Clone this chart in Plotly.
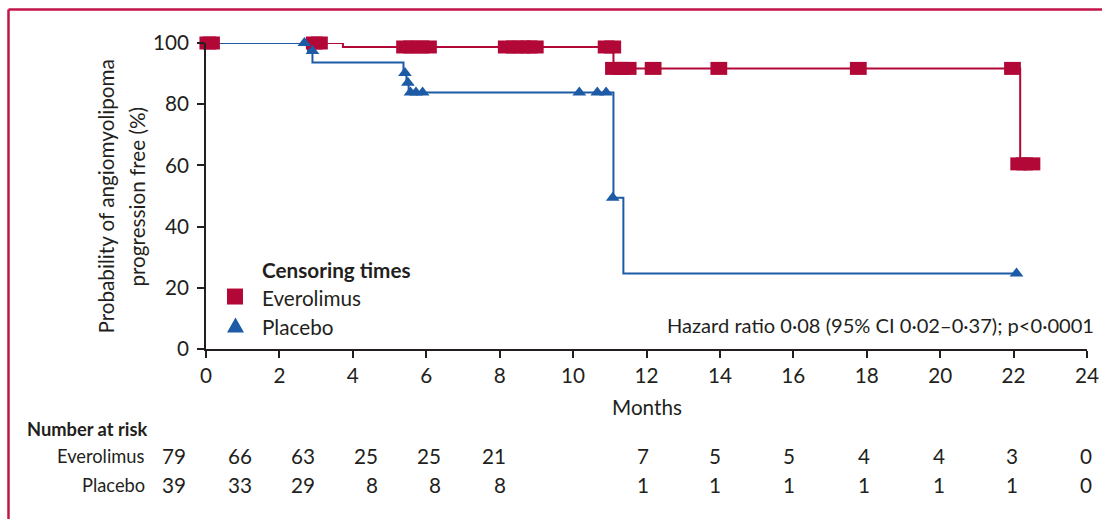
import plotly.graph_objects as go

# Kaplan-Meier step curves (months, % progression free)
evero_time = [0, 3.73, 11.1, 22.18, 22.5]
evero_surv = [100, 98.7, 91.7, 60.5, 60.5]
placebo_time = [0, 2.78, 2.9, 5.38, 5.46, 5.52, 11.1, 11.37, 22.1]
placebo_surv = [100, 97.4, 93.6, 90.2, 87.0, 83.8, 49.4, 24.7, 24.7]

# Censoring times
evero_cens_time = [0.05, 0.15, 2.95, 3.09, 5.41, 5.6, 5.85, 6.06, 8.18, 8.4, 8.6, 8.8, 8.97,
                   10.9, 11.08, 11.1, 11.3, 11.5, 12.18, 13.97, 17.77, 21.97, 22.14, 22.3, 22.5]
evero_cens_surv = [100, 100, 100, 100, 98.7, 98.7, 98.7, 98.7, 98.7, 98.7, 98.7, 98.7, 98.7,
                   98.7, 98.7, 91.7, 91.7, 91.7, 91.7, 91.7, 91.7, 91.7, 60.5, 60.5, 60.5]
placebo_cens_time = [2.68, 2.9, 5.42, 5.5, 5.57, 5.72, 5.9, 10.17, 10.66, 10.9, 11.08, 22.08]
placebo_cens_surv = [100, 97.4, 90.2, 87.0, 83.8, 83.8, 83.8, 83.8, 83.8, 83.8, 49.4, 24.7]

# Axis ticks
x_ticks = list(range(0, 25, 2))
y_ticks = list(range(0, 101, 20))

# Number at risk table
risk_groups = ["Everolimus", "Placebo"]
risk_everolimus = [79, 66, 63, 25, 25, 21, 7, 5, 5, 4, 4, 3, 0]
risk_placebo = [39, 33, 29, 8, 8, 8, 1, 1, 1, 1, 1, 1, 0]
# right edge of each table column, in months on the x scale
risk_cols = [-0.49, 1.31, 3.02, 4.74, 6.46, 8.23, 12.13, 14.09, 16.10, 18.15, 20.19, 22.18, 24.2]
X_MAX = 24

RED = "#b20838"
BLUE = "#1d5ba6"
INK = "#231f20"
FRAME = "#c31447"
FONT = "Lato"
FS = 20.7        # axis, legend and annotation text
FS_HR = 20.1     # hazard ratio note
FS_TABLE = 18.3  # row labels of the risk table

W, H = 1102, 519
L, R, T, B = 206, 1087, 43.3, 349.5


def px(xp):
    return (xp - L) / (R - L)


def py(yp):
    return (B - yp) / (B - T)


fig = go.Figure()

fig.add_trace(go.Scatter(x=evero_time, y=evero_surv, mode="lines", line_shape="hv",
                         line=dict(color=RED, width=2), showlegend=False, cliponaxis=False))
fig.add_trace(go.Scatter(x=placebo_time, y=placebo_surv, mode="lines", line_shape="hv",
                         line=dict(color=BLUE, width=2), showlegend=False, cliponaxis=False))

fig.add_trace(go.Scatter(x=evero_cens_time, y=evero_cens_surv, mode="markers",
                         marker=dict(symbol="line-ew", size=12, color=RED,
                                     line=dict(color=RED, width=13)),
                         showlegend=False, cliponaxis=False))
fig.add_trace(go.Scatter(x=placebo_cens_time, y=placebo_cens_surv, mode="markers",
                         marker=dict(symbol="triangle-up", size=12, color=BLUE,
                                     line=dict(width=0)),
                         showlegend=False, cliponaxis=False))

axis_common = dict(showgrid=False, zeroline=False, showline=True, linecolor=INK, linewidth=1.8,
                   ticks="outside", ticklen=7, tickwidth=1.8, tickcolor=INK, automargin=False,
                   tickfont=dict(family=FONT, size=FS, color=INK))
fig.update_xaxes(range=[0, X_MAX], tickvals=x_ticks, **axis_common)
fig.update_yaxes(range=[0, 100], tickvals=y_ticks, ticklabelstandoff=4, **axis_common)

ann = []


def text(x, y, s, xanchor="left", bold=False, angle=0, size=FS):
    ann.append(dict(x=x, y=y, xref="paper", yref="paper", text=f"<b>{s}</b>" if bold else s,
                    showarrow=False, xanchor=xanchor, yanchor="middle", textangle=angle,
                    font=dict(family=FONT, size=size, color=INK)))


text(0.5, py(408), "Months", xanchor="center")
text(px(106), py(197), "Probability of angiomyolipoma", xanchor="center", angle=-90)
text(px(137), py(197), "progression free (%)", xanchor="center", angle=-90)
text(px(1096), py(325), "Hazard ratio 0·08 (95% CI 0·02–0·37); p&lt;0·0001", xanchor="right",
     size=FS_HR)

# legend
text(px(260), py(270), "Censoring times", bold=True)
text(px(260), py(298), "Everolimus")
text(px(260), py(327), "Placebo")

# number at risk
text(px(25), py(430), "Number at risk", bold=True, size=FS_TABLE)
text(px(147), py(457), risk_groups[0], xanchor="right", size=FS_TABLE)
text(px(147), py(486), risk_groups[1], xanchor="right", size=FS_TABLE)
for c, a, b in zip(risk_cols, risk_everolimus, risk_placebo):
    text(c / X_MAX, py(457), str(a), xanchor="right")
    text(c / X_MAX, py(486), str(b), xanchor="right")

shapes = [
    # legend symbols
    dict(type="rect", xref="paper", yref="paper", x0=px(227), x1=px(243), y0=py(305), y1=py(289),
         fillcolor=RED, line=dict(width=0)),
    dict(type="path", xref="paper", yref="paper",
         path=f"M {px(227)},{py(333)} L {px(244)},{py(333)} L {px(235.5)},{py(318)} Z",
         fillcolor=BLUE, line=dict(width=0)),
    # frame
    dict(type="line", xref="paper", yref="paper", x0=px(8.5), x1=px(1110), y0=py(9.8), y1=py(9.8),
         line=dict(color=FRAME, width=2.5)),
    dict(type="line", xref="paper", yref="paper", x0=px(8.5), x1=px(8.5), y0=py(9.8), y1=py(530),
         line=dict(color=FRAME, width=2.5)),
]

fig.update_layout(width=W, height=H, margin=dict(l=L, r=W - R, t=T, b=H - B),
                  paper_bgcolor="white", plot_bgcolor="white", showlegend=False,
                  annotations=ann, shapes=shapes, font=dict(family=FONT, size=FS, color=INK))

fig.write_html("out.html")
